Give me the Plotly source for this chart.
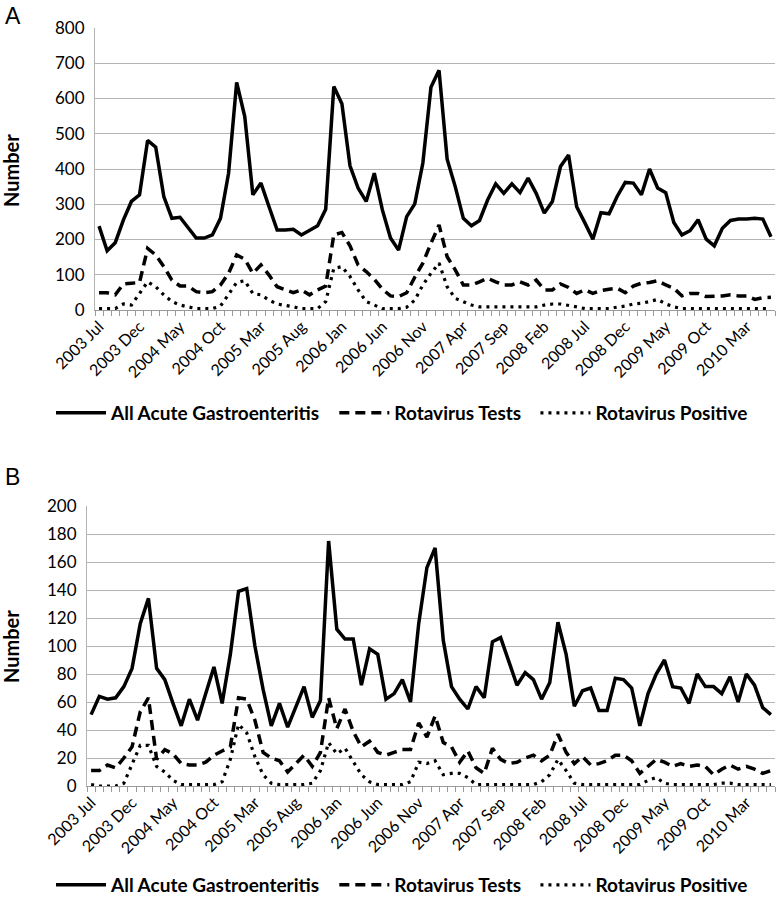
import pandas as pd
import plotly.graph_objects as go

# monthly counts, Jul 2003 - Jun 2010
months = pd.period_range("2003-07", "2010-06", freq="M").strftime("%Y %b").tolist()

# panel A
a_all = [238, 168, 191, 255, 308, 327, 481, 462, 322, 260, 263, 232, 204, 204, 213, 260,
         388, 646, 549, 327, 360, 293, 227, 227, 229, 213, 227, 239, 286, 634, 585, 409,
         346, 308, 388, 284, 204, 170, 265, 301, 417, 632, 680, 428, 350, 260, 239, 254,
         312, 358, 331, 358, 333, 374, 331, 275, 308, 407, 440, 293, 248, 201, 276, 273,
         322, 362, 360, 327, 400, 346, 333, 248, 213, 225, 256, 201, 182, 232, 254, 258,
         258, 260, 258, 208]
a_tests = [49, 49, 43, 74, 76, 78, 175, 156, 123, 85, 68, 68, 52, 49, 52, 71,
           104, 156, 144, 104, 128, 99, 66, 57, 49, 57, 43, 57, 68, 213, 220, 182,
           128, 109, 87, 59, 40, 38, 49, 93, 133, 189, 241, 151, 114, 71, 71, 80,
           90, 80, 71, 71, 80, 71, 85, 57, 57, 74, 64, 47, 57, 47, 55, 59,
           62, 49, 68, 76, 78, 83, 71, 62, 40, 47, 47, 38, 38, 40, 43, 40,
           40, 30, 35, 36]
a_pos = [4, 4, 4, 17, 14, 47, 80, 66, 43, 24, 14, 9, 4, 4, 4, 11,
         43, 78, 83, 47, 43, 28, 17, 14, 9, 4, 4, 4, 24, 118, 123, 95,
         57, 24, 14, 4, 4, 4, 8, 28, 71, 104, 133, 66, 33, 24, 14, 9,
         9, 9, 9, 9, 9, 9, 9, 14, 17, 17, 14, 9, 4, 4, 4, 4,
         8, 11, 17, 19, 24, 30, 17, 9, 4, 4, 4, 4, 4, 4, 4, 4,
         4, 4, 4, 4]

# panel B
b_all = [51, 64, 62, 63, 71, 84, 116, 134, 84, 76, 59, 43, 62, 47, 66, 85,
         59, 94, 139, 141, 100, 69, 43, 59, 42, 57, 71, 49, 61, 175, 112, 105,
         105, 72, 98, 94, 62, 66, 76, 60, 116, 156, 170, 104, 71, 62, 55, 71,
         63, 103, 106, 89, 72, 81, 76, 62, 74, 117, 94, 57, 68, 70, 54, 54,
         77, 76, 70, 43, 66, 80, 90, 71, 70, 59, 80, 71, 71, 66, 78, 60,
         80, 72, 56, 51]
b_tests = [11, 11, 15, 13, 20, 28, 53, 63, 19, 26, 23, 16, 15, 15, 17, 22,
           25, 28, 63, 62, 47, 24, 20, 18, 10, 16, 22, 14, 24, 63, 41, 55,
           39, 28, 32, 24, 22, 24, 26, 26, 45, 35, 50, 31, 28, 17, 25, 13,
           9, 27, 19, 16, 17, 20, 22, 18, 22, 37, 24, 16, 21, 15, 16, 18,
           22, 22, 18, 9, 14, 19, 17, 14, 16, 14, 15, 14, 8, 12, 15, 12,
           14, 12, 9, 11]
b_pos = [1, 0, 0, 0, 2, 15, 29, 29, 14, 10, 4, 1, 1, 1, 1, 1,
         3, 19, 44, 38, 21, 8, 2, 1, 1, 1, 1, 2, 11, 31, 23, 27,
         17, 8, 3, 1, 1, 1, 1, 3, 17, 16, 18, 8, 9, 9, 6, 1,
         1, 1, 1, 1, 1, 1, 1, 3, 8, 19, 11, 2, 1, 1, 1, 1,
         1, 1, 1, 1, 4, 6, 2, 1, 1, 1, 1, 1, 1, 2, 2, 1,
         1, 1, 1, 1]

series_names = ["All Acute Gastroenteritis", "Rotavirus Tests", "Rotavirus Positive"]
dashes = ["solid", "10px,6px", "3px,5px"]
widths = [3.5, 3.5, 3.2]

x = list(range(len(months)))
tick_idx = x[::5]
tick_txt = [months[i] for i in tick_idx]

FONT = "Lato, Calibri, Arial, sans-serif"
W, H = 776, 899


def px_x(v):
    return v / W


def px_y(v):
    return 1 - v / H


fig = go.Figure()
for panel, (data, legend) in enumerate([((a_all, a_tests, a_pos), "legend"),
                                        ((b_all, b_tests, b_pos), "legend2")]):
    xa = "x" if panel == 0 else "x2"
    ya = "y" if panel == 0 else "y2"
    for vals, name, dash, w in zip(data, series_names, dashes, widths):
        fig.add_trace(go.Scatter(
            x=x, y=vals, name=name + "\u00a0\u00a0", mode="lines",
            line=dict(color="black", width=w, dash=dash),
            xaxis=xa, yaxis=ya, legend=legend, hoverinfo="y",
        ))

xaxis_common = dict(
    range=[-0.5, len(months) - 0.5], automargin=False,
    tickmode="array", tickvals=tick_idx, ticktext=tick_txt,
    tickangle=-45, ticks="", showgrid=False, zeroline=False,
    showline=True, linecolor="#9a9a9a", linewidth=1,
    tickfont=dict(family=FONT, size=16, color="black"),
    minor=dict(tickmode="linear", tick0=-0.5, dtick=1, ticks="outside",
               ticklen=5, tickcolor="#9a9a9a", showgrid=False),
)
yaxis_common = dict(
    automargin=False,
    showgrid=True, gridcolor="#b4b4b4", gridwidth=1, zeroline=False,
    showline=True, linecolor="#b4b4b4", linewidth=1, ticks="",
    ticklabelstandoff=6,
    tickfont=dict(family=FONT, size=17, color="black"),
)
legend_common = dict(orientation="h", xanchor="left", x=px_x(51), yanchor="middle",
                     xref="container", yref="container",
                     itemwidth=50, bgcolor="rgba(0,0,0,0)",
                     font=dict(family=FONT, size=19, color="black", weight="bold"))

fig.update_layout(
    width=W, height=H,
    margin=dict(l=0, r=0, t=0, b=0, autoexpand=False),
    plot_bgcolor="white", paper_bgcolor="white",
    xaxis=dict(domain=[px_x(95), px_x(775)], anchor="y", **xaxis_common),
    yaxis=dict(domain=[px_y(310), px_y(28)], range=[0, 800], dtick=100,
               anchor="x", **yaxis_common),
    xaxis2=dict(domain=[px_x(87), px_x(775)], anchor="y2", **xaxis_common),
    yaxis2=dict(domain=[px_y(786), px_y(506)], range=[0, 200], dtick=20,
                anchor="x2", **yaxis_common),
    legend=dict(y=px_y(413), **legend_common),
    legend2=dict(y=px_y(885), **legend_common),
    showlegend=True,
)

for label, top in [("A", 1), ("B", 462)]:
    fig.add_annotation(text=label, x=px_x(3), y=px_y(top), xref="paper", yref="paper",
                       xanchor="left", yanchor="top", showarrow=False,
                       font=dict(family="Arial, sans-serif", size=23, color="black"))
for mid in [171, 647]:
    fig.add_annotation(text="<b>Number</b>", x=px_x(11), y=px_y(mid), xref="paper",
                       yref="paper", textangle=-90, showarrow=False,
                       xanchor="center", yanchor="middle",
                       font=dict(family=FONT, size=20, color="black"))

# the page's default body margin would shift the figure by 8px
fig.write_html("out.html", config={"displayModeBar": False},
               post_script="document.body.style.margin='0';"
                           "document.body.style.overflow='hidden';")
